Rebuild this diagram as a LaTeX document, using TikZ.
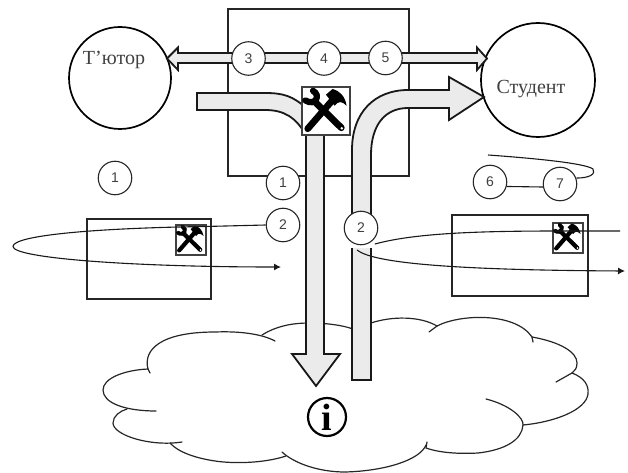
\documentclass[tikz,border=0pt]{standalone}
\usepackage{fontspec}
\setmainfont{Liberation Serif}
\setsansfont{Liberation Sans}
\usetikzlibrary{arrows.meta}
\tikzset{
  heavy/.style={draw=black!90,line width=1.8pt},
  band/.style={draw=black!90,line width=1.8pt,fill=black!8,line join=miter},
  num/.style={circle,draw=black!85,line width=1.1pt,fill=white,minimum size=33.5pt,inner sep=0pt,font=\sffamily\fontsize{14}{14}\selectfont,text=black!75},
  actor/.style={circle,draw=black,line width=1.7pt,fill=white,inner sep=0pt},
  frame/.style={draw=black!85,line width=1.7pt,fill=white,anchor=north west,inner sep=0pt},
  toolbox/.style={draw=black!75,line width=1.7pt,fill=white,inner sep=0pt,anchor=north west},
  label/.style={font=\fontsize{20}{20}\selectfont,text=black!75},
  thin line/.style={draw=black!90,line width=1.1pt},
  cloudline/.style={draw=black!85,line width=1.2pt,line cap=round},
  pics/tools/.style={code={
    \begin{scope}[x=#1pt,y=-#1pt]
      \draw[line width={0.13*#1pt},line cap=round] (.25,.09) .. controls (.42,.18) and (.30,.42) .. (.09,.29);
      \draw[line width={0.14*#1pt},line cap=round] (.30,.33) -- (.84,.86);
      \draw[line width={0.14*#1pt},line cap=round] (.14,.88) -- (.66,.28);
      \fill (.52,.17) -- (.66,.05) .. controls (.80,.09) and (.92,.20) .. (.95,.40) .. controls (.85,.30) and (.78,.30) .. (.70,.40) -- cycle;
      \fill[white] (.85,.87) circle (.03);
    \end{scope}
  }},
}
\begin{document}
\begin{tikzpicture}[x=1pt,y=-1pt]
\useasboundingbox (0,0) rectangle (628,473);
% cloud
\draw[cloudline] (262,335) .. controls (278,325) and (295,323) .. (310,323) .. controls (325,323) and (342,325) .. (353,329);
\draw[cloudline] (371,323) .. controls (392,316) and (420,316) .. (437,326) -- (429,332);
\draw[cloudline] (437,326) .. controls (460,314) and (515,312) .. (532,337) -- (533,342);
\draw[cloudline] (532,337) .. controls (560,342) and (577,352) .. (577,363) .. controls (577,368) and (575,371) .. (572,373) -- (556,382);
\draw[cloudline] (572,373) .. controls (585,378) and (589,386) .. (588,394) .. controls (586,410) and (555,422) .. (523,425);
\draw[cloudline] (486,399) .. controls (510,405) and (524,418) .. (523,425) .. controls (522,440) and (505,450) .. (478,453) .. controls (460,454) and (440,453) .. (426,448) -- (427,442);
\draw[cloudline] (426,445) .. controls (420,460) and (385,471) .. (345,472) .. controls (320,472) and (295,464) .. (282,452);
\draw[cloudline] (286,456) .. controls (265,463) and (235,464) .. (215,461) .. controls (195,458) and (178,452) .. (170,443);
\draw[cloudline] (182,442) .. controls (150,447) and (113,435) .. (113,423) .. controls (113,416) and (120,411) .. (127,409);
\draw[cloudline] (156,411) .. controls (125,411) and (103,403) .. (103,390) .. controls (103,378) and (125,370) .. (148,369) -- (150,373);
\draw[cloudline] (148,369) .. controls (143,350) and (160,332) .. (215,332) .. controls (240,331) and (262,334) .. (275,341);
% main frame
\node[frame,minimum width=181pt,minimum height=167pt] (server) at (227,8) {};
% small frames
\node[frame,minimum width=124pt,minimum height=80pt] (tutorbox) at (86,218) {};
\node[frame,minimum width=136pt,minimum height=81pt] (studentbox) at (451,214) {};
\node[toolbox,minimum size=30pt] (tooll) at (175,224) {};
\pic at (tooll.north west) {tools=30};
\node[toolbox,minimum size=30pt] (toolr) at (552,222) {};
\pic at (toolr.north west) {tools=30};
% actors
\node[actor,minimum size=102pt] (tutor) at (120,78) {};
\node[actor,minimum size=114pt] (student) at (538,80) {};
\node[label] (tutorlabel) at (114,60) {Т’ютор};
\node[label] (studentlabel) at (531,89) {Студент};
% double arrow
\draw[band] (167,58.5) -- (178,47.5) -- (178,53) -- (477,53) -- (477,47.5) -- (487,58.5) -- (477,70) -- (477,63) -- (178,63) -- (178,70) -- cycle;
% down band
\draw[band] (197,93) -- (265,93) .. controls (283,93) and (293,96) .. (306,108) -- (306,354) -- (292,354) -- (316,386) -- (340,354) -- (324,354) -- (324,120) -- (306,135) .. controls (296,118) and (285,110) .. (265,110) -- (197,110) -- cycle;
% up band
\fill[black!8] (352,248) -- (352,380) -- (371,380) -- (371,248) -- cycle;
\draw[heavy] (352,248) -- (352,380) -- (371,380) -- (371,248);
\draw[band] (352,240) -- (352,150) .. controls (352,112) and (375,90) .. (408,90) -- (449,90) -- (449,77) -- (484,97) -- (449,120) -- (449,108) -- (408,108) .. controls (385,108) and (371,125) .. (371,155) -- (371,240) -- cycle;
% tool box
\node[toolbox,minimum size=48pt] (tools) at (301,86.5) {};
\pic at (tools.north west) {tools=48};
% numbers
\node[num] (n3) at (248.5,58.5) {3};
\node[num] (n4) at (324,58.5) {4};
\node[num] (n5) at (385.5,58) {5};
\node[num] (n1a) at (115,178) {1};
\node[num] (n1b) at (283,183) {1};
\node[num] (n2l) at (283,225) {2};
\node[num] (n2r) at (361,228) {2};
\node[num] (n6) at (490,182) {6};
\node[num] (n7) at (560,184) {7};
% thin connectors
\coordinate (lend) at (281,267);
\coordinate (rstart) at (620,231);
\coordinate (rend) at (625,271);
\coordinate (rgap) at (375,244);
\coordinate (rgapb) at (357,250);
\coordinate (loopend) at (488,155);
\draw[thin line,-{Latex[length=7pt,width=7pt]}] (n2l.west) -- (205,226.5) .. controls (100,228) and (13,235) .. (13,246.5) .. controls (13,258) and (130,267) .. (lend);
\draw[thin line] (rstart) -- (560,231) .. controls (480,231) and (415,233) .. (rgap);
\draw[thin line,-{Latex[length=7pt,width=7pt]}] (rgapb) .. controls (372,262) and (440,270) .. (rend);
\draw[thin line] (n6.-15) -- (n7.190);
\draw[thin line] (n7.20) .. controls (590,178) and (596,174) .. (593,169) .. controls (585,163) and (530,158) .. (loopend);
% info
\node[circle,draw=black,line width=2.2pt,minimum size=38pt,inner sep=0pt,font=\bfseries\fontsize{38}{38}\selectfont] (info) at (327,417) {i};
\end{tikzpicture}
\end{document}
